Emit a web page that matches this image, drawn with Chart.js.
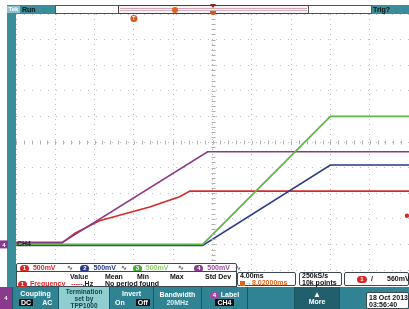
<!DOCTYPE html>
<html>
<head>
<meta charset="utf-8">
<script src="https://cdn.jsdelivr.net/npm/chart.js@4"></script>
<style>
  body { margin: 0; background: #fff; overflow: hidden; font-family: "Liberation Sans", Arial, sans-serif; font-weight: bold; }
  #wrap { position: relative; width: 409px; height: 309px; }
  canvas { position: absolute; left: 0; top: 0; z-index: 1; }
  .a { position: absolute; z-index: 2; font-size: 7px; line-height: 8px; white-space: nowrap; }
  .under { z-index: 0; }
  .teal { background: #3a8d9b; }
  .box { background: #fff; border: 1px solid #3b4a50; box-sizing: border-box; border-radius: 2px; }
  .dot { display: inline-block; width: 9px; height: 7px; border-radius: 4px; color: #fff; text-align: center; font-size: 6px; line-height: 7px; vertical-align: middle; }
  .menu { position: absolute; z-index: 2; top: 287px; height: 22px; background: #2f8393; color: #fff; font-size: 7px; text-align: center; box-sizing: border-box; border-right: 1px solid #1b5662; }
  .blk { background: #111; color: #fff; padding: 0 2px; }
</style>
</head>
<body>
<div id="wrap">
  <canvas id="scope" width="409" height="309"></canvas>

  <!-- left bar -->
  <div class="a under teal" style="left:7px;top:5px;width:9px;height:284px"></div>

  <!-- header -->
  <div class="a teal" style="left:7px;top:5px;width:48px;height:9px"></div>
  <div class="a" style="left:7px;top:6px;width:13px;height:7px;background:#8cc3cc;color:#fff;font-size:6px;line-height:7px;text-align:center">Tek</div>
  <div class="a" style="left:22px;top:5px;color:#111;line-height:9px">Run</div>
  <div class="a" style="left:55px;top:5px;width:64px;height:9px;background:#fff;border:1px solid #555;box-sizing:border-box"></div>
  <div class="a" style="left:118px;top:5px;width:191px;height:9px;background:#f6f2f4;border:1px solid #444;box-sizing:border-box"></div>
  <div class="a" style="left:120px;top:8px;width:187px;height:1px;background:#d9a6b4"></div>
  <div class="a" style="left:120px;top:10px;width:187px;height:1px;background:#c9b6c8"></div>
  <div class="a" style="left:308px;top:5px;width:64px;height:9px;background:#fff;border:1px solid #555;box-sizing:border-box"></div>
  <div class="a teal" style="left:372px;top:5px;width:37px;height:9px;color:#111;line-height:9px;padding-left:1px;box-sizing:border-box">Trig?</div>
  <div class="a" style="left:172px;top:7px;width:6px;height:6px;border-radius:3px;background:#e0641e"></div>
  <div class="a" style="left:210px;top:4px;width:0;height:0;border-left:3px solid transparent;border-right:3px solid transparent;border-top:4px solid #8a2a1a"></div>
  <div class="a" style="left:210px;top:11px;width:6px;height:4px;border-radius:0 0 3px 3px;background:#d45a1c"></div>

  <!-- channel readouts -->
  <div class="a box" style="left:16px;top:263px;width:221px;height:9px;line-height:7px;padding-left:3px">
    <span class="dot" style="background:#d8282a">1</span>
    <span style="color:#d8282a;margin-left:2px">500mV</span>
    <span style="color:#555;margin-left:10px">∿</span>
    <span class="dot" style="background:#263a86;margin-left:5px">2</span>
    <span style="color:#263a86;margin-left:2px">500mV</span>
    <span style="color:#555;margin-left:3px">∿</span>
    <span class="dot" style="background:#4aa83a;margin-left:4px">3</span>
    <span style="color:#8fd070;margin-left:2px">500mV</span>
    <span style="color:#555;margin-left:8px">∿</span>
    <span class="dot" style="background:#8a3a8e;margin-left:8px">4</span>
    <span style="color:#9a4a9e;margin-left:2px">500mV</span>
    <span style="color:#555;margin-left:3px">∿</span>
  </div>
  <div class="a box" style="left:16px;top:271px;width:221px;height:16px;border-radius:0"></div>
  <div class="a" style="left:70px;top:273px;color:#111">Value</div>
  <div class="a" style="left:105px;top:273px;color:#111">Mean</div>
  <div class="a" style="left:137px;top:273px;color:#111">Min</div>
  <div class="a" style="left:170px;top:273px;color:#111">Max</div>
  <div class="a" style="left:205px;top:273px;color:#111">Std Dev</div>
  <div class="a" style="left:18px;top:280px"><span class="dot" style="background:#d8282a">1</span></div>
  <div class="a" style="left:30px;top:280px;color:#d8282a">Frequency</div>
  <div class="a" style="left:71px;top:280px;color:#222"><span style="color:#d8282a">-----</span>.Hz</div>
  <div class="a" style="left:105px;top:280px;color:#111">No period found</div>

  <div class="a box" style="left:237px;top:272px;width:59px;height:14px"></div>
  <div class="a" style="left:240px;top:272px;color:#111">4.00ms</div>
  <div class="a" style="left:240px;top:279px;color:#e0641e"><span style="display:inline-block;width:5px;height:5px;background:#e0641e;vertical-align:middle"></span>→8.02000ms</div>
  <div class="a box" style="left:299px;top:272px;width:43px;height:14px"></div>
  <div class="a" style="left:302px;top:272px;color:#111">250kS/s</div>
  <div class="a" style="left:302px;top:279px;color:#111">10k points</div>
  <div class="a box" style="left:344px;top:272px;width:65px;height:14px"></div>
  <div class="a" style="left:357px;top:275px"><span class="dot" style="background:#d8282a;width:10px">1</span></div>
  <div class="a" style="left:371px;top:275px;color:#111">/</div>
  <div class="a" style="left:387px;top:275px;color:#111">560mV</div>

  <!-- bottom menu -->
  <div class="a" style="left:0;top:287px;width:409px;height:22px;background:#2f8393"></div>
  <div class="menu" style="left:0;width:13px;background:#8a3a8e;line-height:22px;font-size:6px">4</div>
  <div class="menu" style="left:13px;width:46px">
    <div style="margin-top:3px;line-height:8px">Coupling</div>
    <div style="line-height:9px;text-align:left;padding-left:6px"><span class="blk">DC</span><span style="margin-left:9px">AC</span></div>
  </div>
  <div class="menu" style="left:59px;width:51px;background:#8ecdd0;color:#163f48;font-size:6.5px;line-height:7px;padding-top:1px">Termination<br>set by<br>TPP1000</div>
  <div class="menu" style="left:110px;width:44px">
    <div style="margin-top:3px;line-height:8px">Invert</div>
    <div style="line-height:9px;text-align:left;padding-left:5px">On<span class="blk" style="margin-left:11px">Off</span></div>
  </div>
  <div class="menu" style="left:154px;width:48px">
    <div style="margin-top:4px;line-height:8px">Bandwidth</div>
    <div style="line-height:8px;color:#d8eef0">20MHz</div>
  </div>
  <div class="menu" style="left:202px;width:46px">
    <div style="margin-top:4px;line-height:8px"><span class="dot" style="background:#9a4a9e">4</span> Label</div>
    <div style="line-height:8px"><span class="blk">CH4</span></div>
  </div>
  <div class="menu" style="left:248px;width:47px"></div>
  <div class="menu" style="left:295px;width:45px;background:#225f6d">
    <div style="margin-top:4px;line-height:7px;font-size:8px">▲</div>
    <div style="line-height:8px">More</div>
  </div>
  <div class="a box" style="left:366px;top:292px;width:43px;height:17px;color:#111;line-height:7px;padding:1px 0 0 2px">18 Oct 2013<br>03:56:40</div>
</div>

<script>
// time in ms from the trigger point, voltage in volts
const ch1Time  = [-12, -7.3, -6.0, -3.5, 1.6, 4.65, 5.7, 28];
const ch1Volts = [0.03, 0.03, 0.22, 0.46, 0.73, 0.93, 1.04, 1.04];
const ch2Time  = [-12, 7.0, 20.0, 28];
const ch2Volts = [-0.02, -0.02, 1.55, 1.55];
const ch3Time  = [-12, 7.0, 20.0, 28];
const ch3Volts = [0.0, 0.0, 2.5, 2.5];
const ch4Time  = [-12, -7.3, 7.5, 28];
const ch4Volts = [0.04, 0.04, 1.81, 1.81];
const triggerLevel = 0.56;
const centerTime = 8;      // horizontal delay 8.02 ms
const centerVolts = 2.0;

function points(t, v) {
  return t.map((x, i) => ({ x, y: v[i] }));
}

function trace(label, t, v, color) {
  return {
    label,
    data: points(t, v),
    borderColor: color,
    borderWidth: 1.6,
    pointRadius: 0,
    tension: 0
  };
}

const scopeMarks = {
  id: 'scopeMarks',
  afterDraw(chart) {
    const { ctx, chartArea: a, scales: { x, y } } = chart;
    ctx.save();
    // ticks on the centre cross
    ctx.strokeStyle = '#b0b0b0';
    ctx.lineWidth = 1;
    const cx = Math.round(x.getPixelForValue(centerTime)) + 0.5;
    const cy = Math.round(y.getPixelForValue(centerVolts)) + 0.5;
    ctx.beginPath();
    for (let v = y.min; v <= y.max + 0.001; v += 0.1) {
      const py = Math.round(y.getPixelForValue(v)) + 0.5;
      ctx.moveTo(cx - 2, py); ctx.lineTo(cx + 2, py);
    }
    for (let t = x.min; t <= x.max + 0.001; t += 0.8) {
      const px = Math.round(x.getPixelForValue(t)) + 0.5;
      ctx.moveTo(px, cy - 2); ctx.lineTo(px, cy + 2);
    }
    ctx.stroke();

    // trigger position marker
    const tx = x.getPixelForValue(0);
    ctx.fillStyle = '#d9561c';
    ctx.beginPath();
    ctx.arc(tx, a.top + 4.5, 3.5, 0, Math.PI * 2);
    ctx.fill();
    ctx.fillStyle = '#fff';
    ctx.font = 'bold 5px "Liberation Sans", Arial';
    ctx.textAlign = 'center';
    ctx.textBaseline = 'middle';
    ctx.fillText('T', tx, a.top + 4.8);

    // trigger level marker
    const ly = y.getPixelForValue(triggerLevel);
    ctx.fillStyle = '#d8282a';
    ctx.beginPath();
    ctx.arc(a.right - 2, ly, 2.2, 0, Math.PI * 2);
    ctx.fill();

    // channel 4 ground marker and label
    const gy = y.getPixelForValue(0);
    ctx.fillStyle = '#8a3a8e';
    ctx.fillRect(0, gy - 4, 8, 8);
    ctx.fillStyle = '#fff';
    ctx.font = 'bold 6px "Liberation Sans", Arial';
    ctx.fillText('4', 4, gy + 0.5);
    ctx.fillStyle = '#222';
    ctx.font = 'bold 7px "Liberation Sans", Arial';
    ctx.textAlign = 'left';
    ctx.fillText('CH4', a.left + 1, gy);
    ctx.restore();
  }
};

new Chart(document.getElementById('scope'), {
  type: 'line',
  data: {
    datasets: [
      trace('CH3', ch3Time, ch3Volts, '#5cb544'),
      trace('CH2', ch2Time, ch2Volts, '#2b3a85'),
      trace('CH4', ch4Time, ch4Volts, '#8c3a84'),
      trace('CH1', ch1Time, ch1Volts, '#d8282a')
    ]
  },
  options: {
    responsive: false,
    animation: false,
    devicePixelRatio: 1,
    layout: { padding: { left: 16, top: 14, right: 0, bottom: 39 } },
    plugins: { legend: { display: false }, tooltip: { enabled: false } },
    scales: {
      x: {
        type: 'linear', min: -12, max: 28,
        ticks: { display: false, stepSize: 4 },
        grid: { color: '#bdbdbd', drawTicks: false },
        border: { display: false, dash: [1, 4] },
        afterFit: s => { s.height = 0; }
      },
      y: {
        type: 'linear', min: -0.5, max: 4.5,
        ticks: { display: false, stepSize: 0.5 },
        grid: { color: '#bdbdbd', drawTicks: false },
        border: { display: false, dash: [1, 7] },
        afterFit: s => { s.width = 0; }
      }
    }
  },
  plugins: [scopeMarks]
});
</script>
</body>
</html>
